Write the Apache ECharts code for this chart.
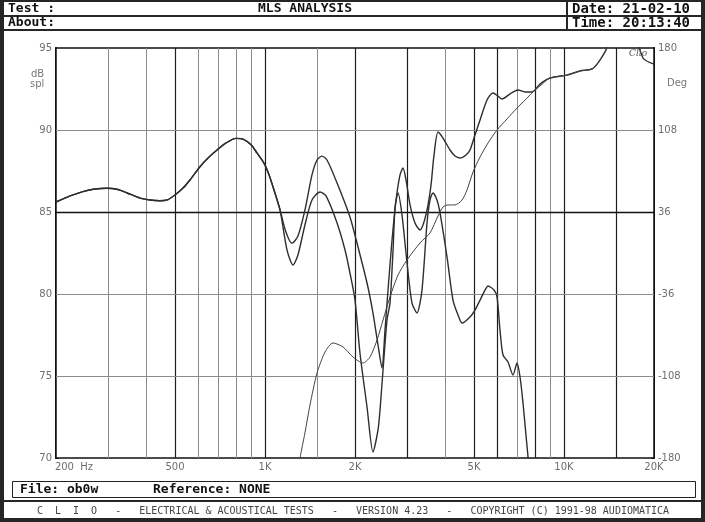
<!DOCTYPE html>
<html><head><meta charset="utf-8">
<script src="https://cdn.jsdelivr.net/npm/echarts@6/dist/echarts.min.js"></script>
<style>html,body{margin:0;padding:0;background:#262626}#c{width:705px;height:522px}</style>
</head><body><div id="c"></div>
<script>
// ---- tick / grid arrays ----
const xTickLabels = [200, 500, 1000, 2000, 5000, 10000, 20000];
const xGridDark = [500, 1000, 2000, 3000, 5000, 6000, 8000, 10000, 15000];
const xGridLight = [300, 400, 600, 700, 800, 900, 1500, 4000, 7000, 9000];
const yGridDark = [85];
const yGridLight = [75, 80, 90];
const yLeftLabels = [70, 75, 80, 85, 90, 95];
const yRightLabels = [-180, -108, -36, 36, 108, 180];

// ---- curves (frequency Hz, dB SPL / degrees) ----
const commonFreq = [200,223,246,270,296,322,346,382,413,445,474,500,532,561,606,645,691,741,800,844,900,940,993,1032,1072,1123];
const commonDb   = [85.61,85.98,86.24,86.40,86.45,86.37,86.16,85.85,85.73,85.69,85.76,86.04,86.46,86.95,87.76,88.29,88.78,89.21,89.49,89.45,89.09,88.60,87.97,87.26,86.34,85.12];

const freqA = [1175,1231,1289,1360,1436,1493,1551,1612,1742,1924,2031,2194,2297,2388,2462,2520,2579,2660,2744,2829,2894,2963,3056,3174,3300,3402,3510,3592,3676,3790,3939,4157,4320,4490,4700,4849,5038,5239,5528,5788,6016,6204,6600,7020,7408,7816,8311,8980,10234,11310,12406,12992,13714,14036,16000,18374,20000];
const dbA   = [83.78,83.09,83.54,85.12,87.26,88.17,88.41,88.17,86.77,84.70,83.11,80.67,78.84,76.89,75.49,77.80,80.24,83.29,85.73,87.26,87.68,86.95,85.43,84.33,83.90,84.39,85.43,86.65,88.48,89.88,89.51,88.78,88.41,88.29,88.48,88.78,89.70,90.61,91.83,92.26,92.07,91.89,92.20,92.44,92.32,92.32,92.80,93.17,93.35,93.60,93.72,94.09,94.76,95.18,97.5,94.39,94.02];

const freqB = [1185,1241,1289,1360,1436,1528,1600,1742,1852,1924,2000,2078,2194,2297,2388,2425,2482,2559,2619,2681,2723,2786,2872,2986,3102,3224,3350,3482,3563,3646,3760,3849,4062,4253,4422,4560,4849,5038,5239,5444,5571,5834,5971,6109,6252,6498,6753,6966,7128,7294,7581,7816];
const dbB   = [82.68,81.77,82.38,84.21,85.73,86.22,85.98,84.33,82.68,81.28,79.63,76.40,73.11,70.37,71.71,72.93,75.37,78.41,79.45,82.68,85.30,86.16,84.82,81.89,79.45,78.84,80.24,84.33,85.73,86.16,85.73,84.94,82.26,79.63,78.72,78.23,78.60,79.02,79.63,80.24,80.49,80.24,79.82,77.80,76.28,75.85,75.06,75.79,74.94,73.35,70.06,68.0];

const freqPhase = [1289,1310,1360,1414,1493,1588,1688,1824,1969,2127,2245,2370,2482,2619,2786,2986,3300,3563,3790,3939,4093,4320,4560,4738,4963,5239,5571,5971,6448,6966,7408,7877,8311,8980,10234,11310,12406,12992,13714,14036];
const phaseDeg  = [-195,-180,-158,-133.5,-105.4,-86.9,-79.0,-82.5,-91.3,-96.6,-91.3,-76.4,-58.8,-38.6,-19.3,-6.1,8.8,17.6,32.5,40.4,42.2,42.2,46.5,55.3,71.1,84.3,96.6,108,117.7,127.3,134.3,141.4,146.6,153.7,156.3,159.8,161.6,166.8,176.5,182.6];

// ---- build ----
const zip = (xs, ys) => xs.map((x, i) => [x, ys[i]]);
const dataA = zip(commonFreq.concat(freqA), commonDb.concat(dbA));
const dataB = zip(commonFreq.concat(freqB), commonDb.concat(dbB));
const dataP = zip(freqPhase, phaseDeg);

const leftTicks = []; for (let v = 70; v <= 95; v += 1) leftTicks.push(v);
const rightTicks = []; for (let v = -180; v <= 180; v += 9) rightTicks.push(v);

const fmtF = v => v >= 1000 ? (v / 1000) + 'K' : String(v);

const gridLines = []
  .concat(xGridLight.map(v => ({xAxis: v, lineStyle: {color: '#8c8c8c', width: 1, type: 'solid'}})))
  .concat(xGridDark.map(v => ({xAxis: v, lineStyle: {color: '#1e1e1e', width: 1.2, type: 'solid'}})))
  .concat(yGridLight.map(v => ({yAxis: v, lineStyle: {color: '#8c8c8c', width: 1, type: 'solid'}})))
  .concat(yGridDark.map(v => ({yAxis: v, lineStyle: {color: '#111', width: 1.4, type: 'solid'}})));

const labelLines = xTickLabels.map(v => ({
  xAxis: v,
  lineStyle: {color: 'rgba(0,0,0,0)', width: 1},
  label: v === 200
    ? {show: true, position: 'start', formatter: '200  Hz', padding: [0, 0, 0, 36], distance: 4}
    : {show: true, position: 'start', formatter: fmtF(v), distance: 4}
}));

const txt = (x, y, s, o) => Object.assign({type: 'text', x: x, y: y, z: 100,
  style: Object.assign({text: s, fill: '#111', font: 'bold 13px "DejaVu Sans Mono"', textVerticalAlign: 'middle'}, o || {})});
const rect = (x, y, w, h, fill, stroke) => ({type: 'rect', z: 0, shape: {x: x, y: y, width: w, height: h},
  style: {fill: fill, stroke: stroke || null, lineWidth: stroke ? 1 : 0}});

const chart = echarts.init(document.getElementById('c'), null, {renderer: 'canvas', width: 705, height: 522});
chart.setOption({
  backgroundColor: '#262626',
  animation: false,
  graphic: [
    rect(4, 2, 562, 13, '#fff'), rect(568, 2, 133, 13, '#fff'),
    rect(4, 17, 562, 12, '#fff'), rect(568, 17, 133, 12, '#fff'),
    rect(4, 31, 697, 469, '#fff'),
    rect(12.5, 481.5, 683, 16, '#fff', '#222'),
    rect(4, 502, 697, 16, '#fff'),
    txt(8, 9, 'Test :'), txt(305, 9, 'MLS ANALYSIS', {textAlign: 'center'}),
    txt(572, 9, 'Date: 21-02-10', {font: 'bold 14px "DejaVu Sans Mono"'}),
    txt(8, 23, 'About:'), txt(572, 23, 'Time: 20:13:40', {font: 'bold 14px "DejaVu Sans Mono"'}),
    txt(20, 490, 'File: ob0w'), txt(153, 490, 'Reference: NONE'),
    txt(353, 511, 'C  L  I  O   -   ELECTRICAL & ACOUSTICAL TESTS   -   VERSION 4.23   -   COPYRIGHT (C) 1991-98 AUDIOMATICA',
        {textAlign: 'center', font: '10px "DejaVu Sans Mono"', fill: '#444'}),
    txt(31, 74, 'dB', {font: '10px "DejaVu Sans"', fill: '#777'}),
    txt(30, 84, 'spl', {font: '10px "DejaVu Sans"', fill: '#777'}),
    txt(667, 83, 'Deg', {font: '10px "DejaVu Sans"', fill: '#777'}),
    txt(629, 54, 'Clio', {font: 'italic 9px "DejaVu Serif"', fill: '#555'})
  ],
  grid: {left: 56, right: 51, top: 48, bottom: 64, show: true, backgroundColor: '#fff', borderColor: '#111', borderWidth: 1.5, z: 1},
  xAxis: {
    type: 'log', logBase: 10, min: 200, max: 20000,
    axisLine: {show: true, lineStyle: {color: '#111', width: 1.5}},
    axisTick: {show: false}, axisLabel: {show: false}, splitLine: {show: false}, minorSplitLine: {show: false}
  },
  yAxis: [
    {
      type: 'value', min: 70, max: 95, interval: 5, position: 'left',
      axisLine: {show: true, lineStyle: {color: '#111', width: 2}},
      axisTick: {show: true, inside: true, length: 3, customValues: leftTicks, lineStyle: {color: '#333'}},
      axisLabel: {color: '#6e6e6e', fontSize: 10, fontFamily: 'DejaVu Sans', margin: 4, customValues: yLeftLabels},
      splitLine: {show: false}
    },
    {
      type: 'value', min: -180, max: 180, position: 'right',
      axisLine: {show: true, lineStyle: {color: '#111', width: 2}},
      axisTick: {show: true, inside: true, length: 3, customValues: rightTicks, lineStyle: {color: '#333'}},
      axisLabel: {color: '#6e6e6e', fontSize: 10, fontFamily: 'DejaVu Sans', margin: 4, customValues: yRightLabels},
      splitLine: {show: false}
    }
  ],
  series: [
    {
      type: 'line', data: [], z: 1, silent: true,
      markLine: {silent: true, symbol: ['none', 'none'], animation: false, label: {show: false}, data: gridLines}
    },
    {
      type: 'line', data: [], z: 1, silent: true,
      markLine: {silent: true, symbol: ['none', 'none'], animation: false,
        label: {color: '#6e6e6e', fontSize: 10, fontFamily: 'DejaVu Sans'}, data: labelLines}
    },
    {name: 'A', type: 'line', data: dataA, yAxisIndex: 0, showSymbol: false, smooth: 0.25, clip: true,
      lineStyle: {color: '#2e2e2e', width: 1.4}, z: 5},
    {name: 'B', type: 'line', data: dataB, yAxisIndex: 0, showSymbol: false, smooth: 0.25, clip: true,
      lineStyle: {color: '#2e2e2e', width: 1.4}, z: 5},
    {name: 'Phase', type: 'line', data: dataP, yAxisIndex: 1, showSymbol: false, smooth: 0.25, clip: true,
      lineStyle: {color: '#444', width: 1}, z: 5}
  ]
});
</script></body></html>
